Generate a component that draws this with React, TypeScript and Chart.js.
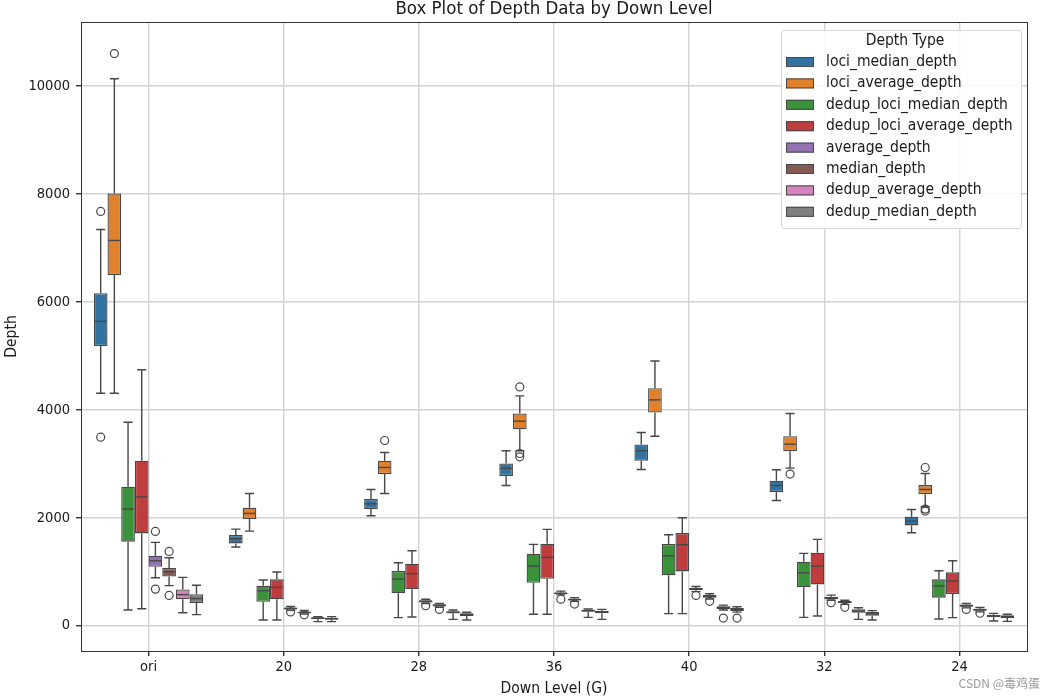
import { useEffect, useRef } from 'react';
import { Chart, registerables } from 'chart.js';

Chart.register(...registerables);

const categories = ['ori', '20', '28', '36', '40', '32', '24'];
const seriesNames = [
  'loci_median_depth',
  'loci_average_depth',
  'dedup_loci_median_depth',
  'dedup_loci_average_depth',
  'average_depth',
  'median_depth',
  'dedup_average_depth',
  'dedup_median_depth',
];
const seriesColors = ['#3274a1', '#e1812c', '#3a923a', '#c03d3e', '#9372b2', '#845b53', '#d684bd', '#7f7f7f'];
const yTickValues = [0, 2000, 4000, 6000, 8000, 10000];

// each entry: [whiskerLow, q1, median, q3, whiskerHigh]
const lociMedianDepth = [
  [4309, 5182, 5640, 6164, 7343],
  [1457, 1525, 1611, 1679, 1790],
  [2037, 2160, 2259, 2346, 2525],
  [2599, 2772, 2914, 3006, 3241],
  [2895, 3056, 3241, 3358, 3580],
  [2321, 2475, 2599, 2685, 2889],
  [1722, 1858, 1938, 2019, 2154],
];
const lociMedianDepthOut = [[7678, 3493], [], [], [], [], [], []];

const lociAverageDepth = [
  [4309, 6499, 7140, 8013, 10138],
  [1753, 1975, 2080, 2185, 2451],
  [2451, 2809, 2932, 3056, 3210],
  [3241, 3642, 3790, 3932, 4259],
  [3512, 3951, 4185, 4401, 4907],
  [2920, 3235, 3364, 3512, 3932],
  [2204, 2438, 2525, 2605, 2821],
];
const lociAverageDepthOut = [[10604], [], [3432], [4426, 3191, 3130], [], [2809], [2932, 2123, 2160]];

const dedupLociMedianDepth = [
  [291, 1557, 2162, 2576, 3770],
  [105, 444, 648, 741, 846],
  [148, 599, 864, 1012, 1167],
  [210, 796, 1105, 1333, 1506],
  [222, 932, 1296, 1512, 1685],
  [154, 710, 981, 1185, 1340],
  [123, 519, 735, 858, 1019],
];
const dedupLociMedianDepthOut = [[], [], [], [], [], [], []];

const dedupLociAverageDepth = [
  [313, 1710, 2387, 3057, 4745],
  [105, 488, 710, 858, 994],
  [160, 673, 963, 1148, 1389],
  [210, 870, 1265, 1519, 1784],
  [222, 1006, 1500, 1716, 2000],
  [179, 765, 1105, 1352, 1599],
  [148, 586, 827, 988, 1204],
];
const dedupLociAverageDepthOut = [[], [], [], [], [], [], []];

const averageDepth = [
  [888, 1092, 1201, 1295, 1543],
  [285, 300, 318, 335, 355],
  [410, 430, 450, 470, 490],
  [570, 585, 600, 615, 640],
  [630, 655, 680, 700, 725],
  [470, 490, 515, 535, 565],
  [330, 350, 370, 390, 410],
];
const averageDepthOut = [[1747, 677], [255], [370], [490], [560], [425], [300]];

const medianDepth = [
  [742, 910, 997, 1070, 1259],
  [215, 232, 245, 255, 280],
  [340, 355, 375, 395, 410],
  [450, 465, 485, 500, 520],
  [495, 515, 545, 570, 590],
  [395, 415, 435, 455, 470],
  [255, 275, 295, 315, 335],
];
const medianDepthOut = [[1376, 560], [200], [300], [400], [450], [340], [230]];

const dedupAverageDepth = [
  [240, 488, 575, 670, 895],
  [74, 123, 140, 154, 167],
  [117, 228, 245, 265, 290],
  [154, 259, 278, 296, 309],
  [290, 310, 335, 360, 380],
  [117, 241, 270, 302, 333],
  [86, 154, 180, 204, 228],
];
const dedupAverageDepthOut = [[], [], [], [], [140], [], []];

const dedupMedianDepth = [
  [204, 422, 502, 582, 750],
  [74, 111, 130, 148, 167],
  [105, 179, 205, 228, 247],
  [117, 228, 255, 278, 302],
  [250, 270, 300, 325, 350],
  [105, 185, 220, 259, 278],
  [80, 142, 165, 191, 210],
];
const dedupMedianDepthOut = [[], [], [], [], [140], [], []];

const allStats = [
  lociMedianDepth,
  lociAverageDepth,
  dedupLociMedianDepth,
  dedupLociAverageDepth,
  averageDepth,
  medianDepth,
  dedupAverageDepth,
  dedupMedianDepth,
];
const allOutliers = [
  lociMedianDepthOut,
  lociAverageDepthOut,
  dedupLociMedianDepthOut,
  dedupLociAverageDepthOut,
  averageDepthOut,
  medianDepthOut,
  dedupAverageDepthOut,
  dedupMedianDepthOut,
];

const LINE = '#474747';
const FONT = "'DejaVu Sans Condensed', 'DejaVu Sans', sans-serif";
const TEXT = '#1a1a1a';

const boxPlugin = {
  id: 'boxExtras',
  afterDatasetsDraw(chart: any) {
    const ctx = chart.ctx;
    const ys = chart.scales.y;
    ctx.save();
    chart.data.datasets.forEach((ds: any, i: number) => {
      const meta = chart.getDatasetMeta(i);
      meta.data.forEach((el: any, j: number) => {
        const st = ds.stats[j];
        const x = el.x;
        const w = el.width;
        const yLo = ys.getPixelForValue(st[0]);
        const yQ1 = ys.getPixelForValue(st[1]);
        const yMed = ys.getPixelForValue(st[2]);
        const yQ3 = ys.getPixelForValue(st[3]);
        const yHi = ys.getPixelForValue(st[4]);
        ctx.strokeStyle = LINE;
        ctx.lineWidth = 1.4;
        ctx.beginPath();
        ctx.moveTo(x, yQ3);
        ctx.lineTo(x, yHi);
        ctx.moveTo(x, yQ1);
        ctx.lineTo(x, yLo);
        ctx.moveTo(x - w / 3, yHi);
        ctx.lineTo(x + w / 3, yHi);
        ctx.moveTo(x - w / 3, yLo);
        ctx.lineTo(x + w / 3, yLo);
        ctx.stroke();
        ctx.beginPath();
        ctx.moveTo(x - w / 2 + 1, yMed);
        ctx.lineTo(x + w / 2 - 1, yMed);
        ctx.stroke();
        (ds.outliers[j] || []).forEach((v: number) => {
          const yy = ys.getPixelForValue(v);
          ctx.beginPath();
          ctx.arc(x, yy, 4, 0, Math.PI * 2);
          ctx.lineWidth = 1.2;
          ctx.stroke();
        });
      });
    });
    ctx.restore();
  },
  afterDraw(chart: any) {
    const ctx = chart.ctx;
    const a = chart.chartArea;
    ctx.save();
    // spines
    ctx.strokeStyle = '#333333';
    ctx.lineWidth = 1;
    ctx.strokeRect(Math.round(a.left) + 0.5, Math.round(a.top) + 0.5, Math.round(a.right - a.left), Math.round(a.bottom - a.top));
    // title
    ctx.fillStyle = TEXT;
    ctx.font = `18.5px ${FONT}`;
    ctx.textAlign = 'center';
    ctx.textBaseline = 'middle';
    ctx.fillText('Box Plot of Depth Data by Down Level', (a.left + a.right) / 2, 9);
    // legend
    const lx = 781, ly = 30, lw = 240, lh = 198;
    ctx.fillStyle = 'rgba(255,255,255,0.85)';
    ctx.strokeStyle = '#d6d6d6';
    ctx.lineWidth = 1;
    ctx.beginPath();
    (ctx as any).roundRect(lx + 0.5, ly + 0.5, lw, lh, 3);
    ctx.fill();
    ctx.stroke();
    ctx.fillStyle = TEXT;
    ctx.font = `15.5px ${FONT}`;
    ctx.textAlign = 'center';
    ctx.fillText('Depth Type', lx + lw / 2 + 4, 41);
    ctx.textAlign = 'left';
    seriesNames.forEach((name, i) => {
      const cy = 62 + i * 21.4;
      ctx.fillStyle = seriesColors[i];
      ctx.fillRect(786, cy - 5, 28, 10);
      ctx.strokeStyle = LINE;
      ctx.lineWidth = 1;
      ctx.strokeRect(786.5, cy - 4.5, 27, 9);
      ctx.fillStyle = TEXT;
      ctx.fillText(name, 826, cy);
    });
    // watermark
    ctx.fillStyle = '#9a9a9a';
    ctx.font = `12px 'Noto Sans CJK SC', sans-serif`;
    ctx.textAlign = 'right';
    ctx.fillText('CSDN @毒鸡蛋', 1040, 683);
    ctx.restore();
  },
};

export default function App() {
  const ref = useRef<HTMLCanvasElement>(null);
  useEffect(() => {
    if (!ref.current) return;
    const datasets = seriesNames.map((name, i) => ({
      label: name,
      data: allStats[i].map((s) => [s[1], s[3]]),
      stats: allStats[i],
      outliers: allOutliers[i],
      backgroundColor: seriesColors[i],
      borderColor: LINE,
      borderWidth: 1.3,
      borderSkipped: false,
      categoryPercentage: 0.81,
      barPercentage: 1.0,
    }));
    const chart = new Chart(ref.current, {
      type: 'bar',
      data: { labels: categories, datasets: datasets as any },
      options: {
        animation: false,
        responsive: true,
        maintainAspectRatio: false,
        layout: { padding: { left: 0, right: 20, top: 22, bottom: 0 } },
        plugins: {
          legend: { display: false },
          title: { display: false },
          tooltip: { enabled: false },
        },
        scales: {
          x: {
            type: 'category',
            offset: true,
            grid: { offset: false, color: '#d3d3d3', lineWidth: 1.4, tickLength: 5, tickColor: '#333333' },
            border: { display: false },
            ticks: { color: TEXT, font: { family: FONT, size: 14.5 }, padding: 3 },
            title: {
              display: true,
              text: 'Down Level (G)',
              color: TEXT,
              font: { family: FONT, size: 15.5 },
              padding: { top: 0, bottom: 2 },
            },
            afterFit: (s: any) => {
              s.height = 49;
            },
          },
          y: {
            type: 'linear',
            min: -470,
            max: 11190,
            grid: { color: '#d3d3d3', lineWidth: 1.4, tickLength: 5, tickColor: '#333333' },
            border: { display: false },
            ticks: {
              color: TEXT,
              font: { family: FONT, size: 14.5 },
              padding: 6,
              callback: (v: any) => String(v),
            },
            afterBuildTicks: (s: any) => {
              s.ticks = yTickValues.map((v) => ({ value: v }));
            },
            title: {
              display: true,
              text: 'Depth',
              color: TEXT,
              font: { family: FONT, size: 15.5 },
              padding: { top: 3, bottom: 2 },
            },
            afterFit: (s: any) => {
              s.width = 81;
            },
          },
        },
      },
      plugins: [boxPlugin],
    });
    return () => chart.destroy();
  }, []);
  return (
    <div style={{ position: 'fixed', left: 0, top: 0, width: 1047, height: 700, background: '#fff' }}>
      <canvas ref={ref} />
    </div>
  );
}
